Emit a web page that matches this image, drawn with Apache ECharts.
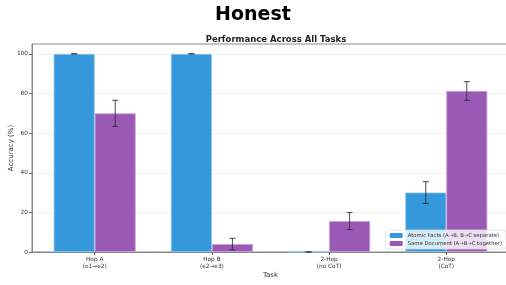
<!DOCTYPE html>
<html>
<head>
<meta charset="utf-8">
<script src="https://cdn.jsdelivr.net/npm/echarts@6/dist/echarts.min.js"></script>
<style>
  html, body { margin: 0; padding: 0; background: #fff; }
  #chart { width: 506px; height: 285px; }
</style>
</head>
<body>
<div id="chart"></div>
<script>
const categories = ["Hop A\n(e1→e2)", "Hop B\n(e2→e3)", "2-Hop\n(no CoT)", "2-Hop\n(CoT)"];
const atomicMean = [100, 100, 0, 30];
const atomicErr = [0, 0, 0, 5.5];
const sameDocMean = [70, 4, 15.6, 81.3];
const sameDocErr = [6.6, 2.9, 4.3, 4.7];
const yTicks = [0, 20, 40, 60, 80, 100];

const FONT = "DejaVu Sans";
const BAR = 0.35; // bar width in category units (matplotlib style)
const positions = categories.map((_, i) => i);

const blueData = atomicMean.map((v, i) => [i - BAR / 2, v]);
const purpleData = sameDocMean.map((v, i) => [i + BAR / 2, v]);
const errData = [
  ...atomicMean.map((v, i) => [i - BAR / 2, v, atomicErr[i]]),
  ...sameDocMean.map((v, i) => [i + BAR / 2, v, sameDocErr[i]]),
];

const chart = echarts.init(document.getElementById("chart"));

chart.setOption({
  animation: false,
  backgroundColor: "#fff",
  title: [
    {
      text: "Honest",
      left: "center",
      top: 1,
      textStyle: { fontFamily: FONT, fontWeight: "bold", fontSize: 19, color: "#000" },
    },
    {
      text: "Performance Across All Tasks",
      left: 271,
      textAlign: "center",
      top: 30,
      textStyle: { fontFamily: FONT, fontWeight: "bold", fontSize: 8.5, color: "#222" },
    },
  ],
  legend: {
    orient: "vertical",
    right: 0,
    bottom: 36,
    itemWidth: 13,
    itemHeight: 5,
    itemGap: 3,
    padding: [3, 4],
    backgroundColor: "rgba(255,255,255,0.8)",
    borderColor: "#ddd",
    borderWidth: 0.8,
    borderRadius: 2,
    itemStyle: { borderWidth: 0 },
    textStyle: { fontFamily: FONT, fontSize: 5.3, color: "#333" },
    data: ["Atomic Facts (A→B, B→C separate)", "Same Document (A→B→C together)"],
  },
  grid: {
    left: 32,
    right: -3,
    top: 44,
    bottom: 33,
    outerBoundsMode: "none",
    containLabel: false,
    show: true,
    borderColor: "#888",
    borderWidth: 1,
  },
  xAxis: {
    type: "value",
    min: -0.535,
    max: 3.535,
    name: "Task",
    nameLocation: "middle",
    nameGap: 20,
    nameMoveOverlap: false,
    nameTextStyle: { fontFamily: FONT, fontSize: 7, color: "#333" },
    axisLine: { show: true, onZero: false, lineStyle: { color: "#888" } },
    axisTick: { show: true, customValues: positions, length: 3, lineStyle: { color: "#666" } },
    axisLabel: {
      customValues: positions,
      formatter: (v) => categories[Math.round(v)],
      fontFamily: FONT,
      fontSize: 5.8,
      lineHeight: 7,
      color: "#333",
      margin: 4,
    },
    splitLine: { show: false },
  },
  yAxis: {
    type: "value",
    min: 0,
    max: 105,
    name: "Accuracy (%)",
    nameLocation: "middle",
    nameGap: 17,
    nameMoveOverlap: false,
    nameTextStyle: { fontFamily: FONT, fontSize: 7, color: "#333" },
    axisLine: { show: true, onZero: false, lineStyle: { color: "#888" } },
    axisTick: { show: true, customValues: yTicks, length: 3, lineStyle: { color: "#666" } },
    axisLabel: {
      customValues: yTicks,
      fontFamily: FONT,
      fontSize: 5.8,
      color: "#333",
      margin: 4,
    },
    splitLine: { show: true, lineStyle: { color: "#f0f0f0", width: 1 } },
  },
  series: [
    {
      name: "Atomic Facts (A→B, B→C separate)",
      type: "bar",
      data: blueData,
      barWidth: 41,
      barGap: "-100%",
      itemStyle: { color: "#3498db", borderColor: "#8ec6ec", borderWidth: 0.8 },
    },
    {
      name: "Same Document (A→B→C together)",
      type: "bar",
      data: purpleData,
      barWidth: 41,
      barGap: "-100%",
      itemStyle: { color: "#9b59b6", borderColor: "#c9a3d8", borderWidth: 0.8 },
    },
    {
      type: "custom",
      silent: true,
      z: 10,
      data: errData,
      renderItem: (params, api) => {
        const x = api.value(0);
        const m = api.value(1);
        const e = api.value(2);
        const top = api.coord([x, m + e]);
        const bot = api.coord([x, m - e]);
        const cap = 3;
        const style = { stroke: "#2b2b2b", lineWidth: 1, opacity: 0.85 };
        return {
          type: "group",
          children: [
            { type: "line", shape: { x1: top[0], y1: top[1], x2: bot[0], y2: bot[1] }, style },
            { type: "line", shape: { x1: top[0] - cap, y1: top[1], x2: top[0] + cap, y2: top[1] }, style },
            { type: "line", shape: { x1: bot[0] - cap, y1: bot[1], x2: bot[0] + cap, y2: bot[1] }, style },
          ],
        };
      },
    },
  ],
});
</script>
</body>
</html>
